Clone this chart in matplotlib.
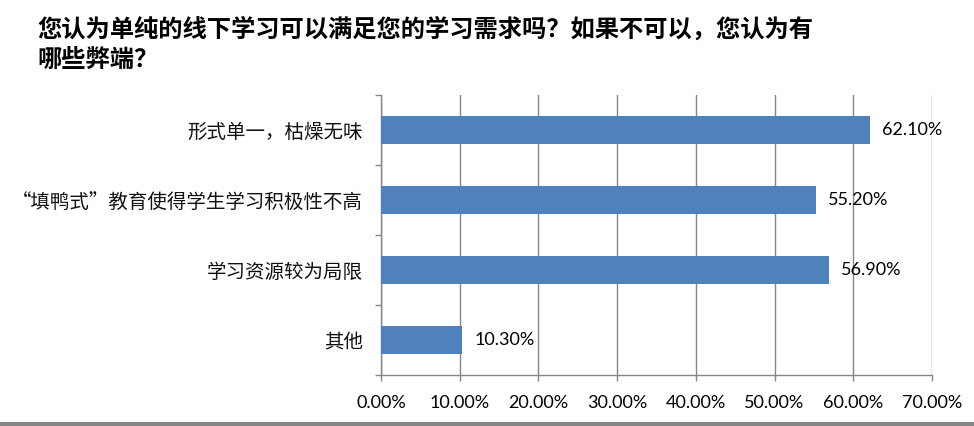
import matplotlib
matplotlib.use('Agg')
import matplotlib.pyplot as plt
from matplotlib.patches import Rectangle
from matplotlib.ticker import FuncFormatter, MultipleLocator

plt.rcParams['font.family'] = ['Noto Sans CJK SC', 'DejaVu Sans']
plt.rcParams['axes.unicode_minus'] = False

title = '您认为单纯的线下学习可以满足您的学习需求吗？如果不可以，您认为有\n哪些弊端？'
categories = ['形式单一，枯燥无味', '“填鸭式”教育使得学生学习积极性不高', '学习资源较为局限', '其他']
values = [62.10, 55.20, 56.90, 10.30]

BAR = '#4F81BD'
GRID = '#868686'

fig = plt.figure(figsize=(9.74, 4.26), dpi=100)
ax = fig.add_axes([381 / 974, 51 / 426, 551 / 974, 280 / 426])

y = list(range(len(categories)))
ax.barh(y, values, height=0.4, color=BAR, zorder=3)

ax.set_xlim(0, 70)
ax.set_ylim(len(categories) - 0.5, -0.5)
ax.xaxis.set_major_locator(MultipleLocator(10))
ax.xaxis.set_major_formatter(FuncFormatter(lambda v, p: f'{v:.2f}%'))
ax.grid(axis='x', color=GRID, linewidth=1.0, zorder=0)

ax.set_yticks(y)
ax.set_yticklabels(categories, fontsize=14, color='#111111')
ax.set_yticks([i - 0.5 for i in range(len(categories) + 1)], minor=True)
ax.tick_params(axis='y', which='major', length=0, pad=13)
ax.tick_params(axis='y', which='minor', length=4.3, color=GRID, width=1)
ax.tick_params(axis='x', length=4.3, color=GRID, width=1, pad=10, labelsize=13)
for lab in ax.get_xticklabels():
    lab.set_family(['Lato', 'DejaVu Sans'])

for s in ['top', 'right']:
    ax.spines[s].set_visible(False)
for s in ['left', 'bottom']:
    ax.spines[s].set_color(GRID)
    ax.spines[s].set_linewidth(1.0)

for i, v in enumerate(values):
    ax.annotate(f'{v:.2f}%', (v, i), xytext=(9, 0), textcoords='offset points',
                va='center', ha='left', fontsize=13, family=['Lato', 'DejaVu Sans'])

fig.text(37 / 974, 1 - 17 / 426, title, ha='left', va='top', fontsize=17.5,
         fontweight='bold', linespacing=1.35)

fig.add_artist(Rectangle((0, 0), 1, 4 / 426, transform=fig.transFigure,
                         color=GRID, linewidth=0))

fig.savefig('out.png', dpi=100)
